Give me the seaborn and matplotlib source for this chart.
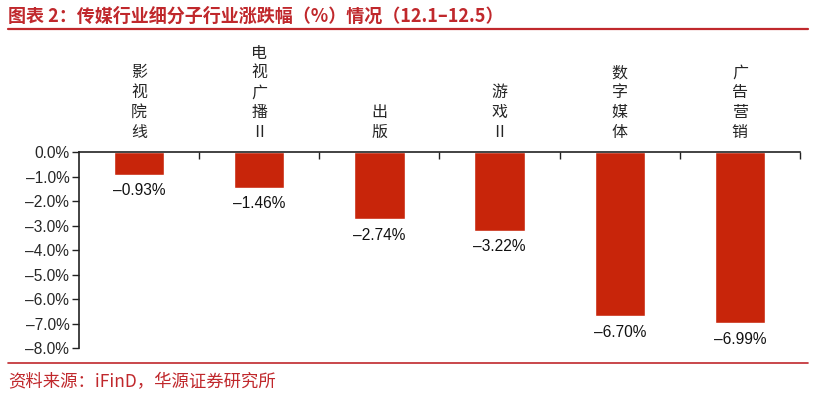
import numpy as np
import pandas as pd
import matplotlib
matplotlib.use('Agg')
import matplotlib.pyplot as plt
import seaborn as sns
from matplotlib.lines import Line2D

sns.set_theme(style='white')
plt.rcParams['font.family'] = ['Noto Sans CJK SC', 'DejaVu Sans']
plt.rcParams['axes.unicode_minus'] = False

categories = ['影视院线', '电视广播Ⅱ', '出版', '游戏Ⅱ', '数字媒体', '广告营销']
values = [-0.93, -1.46, -2.74, -3.22, -6.70, -6.99]
yticks = [0, -1, -2, -3, -4, -5, -6, -7, -8]

title = '图表 2：传媒行业细分子行业涨跌幅（%）情况（12.1–12.5）'
source = '资料来源：iFinD，华源证券研究所'
red = '#C0282C'
bar_color = '#C8250A'

df = pd.DataFrame({'cat': categories, 'val': values})

fig = plt.figure(figsize=(8.29, 3.96), dpi=100)
ax = fig.add_axes([0.0953, 0.121, 0.8697, 0.495])
sns.barplot(data=df, x='cat', y='val', color=bar_color, width=0.42,
            saturation=1, ax=ax)

ax.set_xlim(-0.5, 5.5)
ax.set_ylim(-8, 0)
ax.set_yticks(yticks)
ax.set_yticklabels([f'–{abs(t):.1f}%' if t < 0 else f'{t:.1f}%' for t in yticks],
                   fontsize=11.2, family=['Liberation Sans', 'DejaVu Sans'])
ax.set_xlabel('')
ax.set_ylabel('')

# category labels on top, written vertically
ax.xaxis.tick_top()
ax.set_xticks(range(len(categories)))
ax.set_xticklabels(['\n'.join(c) for c in categories], fontsize=11.5,
                   linespacing=1.22, va='bottom')
ax.set_xticks(np.arange(len(categories)) + 0.5, minor=True)
ax.tick_params(axis='x', which='major', length=0, pad=8)
ax.tick_params(axis='x', which='minor', top=True, bottom=False, direction='in',
               length=5, width=1, color='#222222')
ax.tick_params(axis='y', which='major', left=True, direction='out', length=5,
               width=1, color='#222222', pad=2)

for s in ['right', 'bottom']:
    ax.spines[s].set_visible(False)
for s in ['left', 'top']:
    ax.spines[s].set_color('#222222')
    ax.spines[s].set_linewidth(1.2)

labels = [f'–{abs(v):.2f}%' for v in values]
ax.bar_label(ax.containers[0], labels=labels, padding=6, fontsize=11.2,
             family=['Liberation Sans', 'DejaVu Sans'], color='#111111')

fig.text(0.01, 0.958, title, color=red, fontsize=13, fontweight='bold',
         va='center', ha='left')
fig.add_artist(Line2D([0.01, 0.975], [0.927, 0.927], color=red, lw=1.6,
                      transform=fig.transFigure))
fig.add_artist(Line2D([0.01, 0.975], [0.083, 0.083], color=red, lw=1.2,
                      transform=fig.transFigure))
fig.text(0.01, 0.035, source, color=red, fontsize=12.5, va='center', ha='left')

fig.savefig('out.png', dpi=100)
